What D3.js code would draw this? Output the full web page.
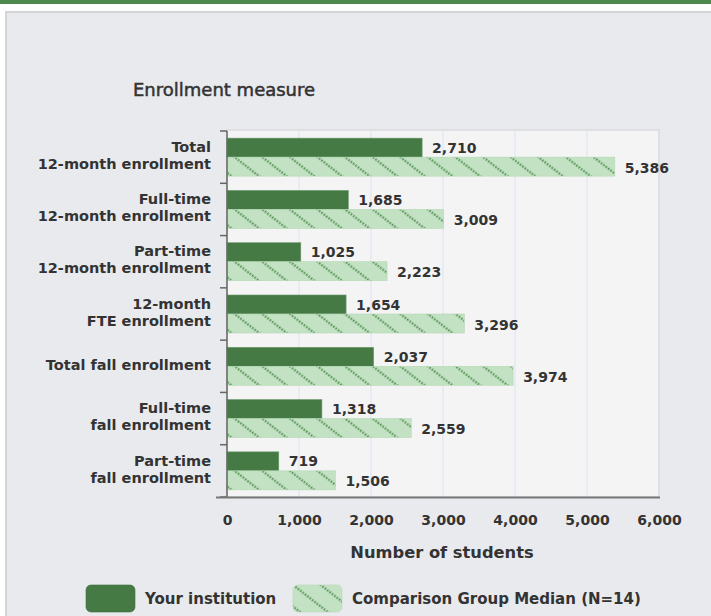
<!doctype html>
<html>
<head>
<style>
  body { margin: 0; background: #fff; }
  svg { display: block; }
</style>
</head>
<body>
<svg width="711" height="616" font-family="'DejaVu Sans', Verdana, sans-serif"></svg>
<script src="https://d3js.org/d3.v7.min.js"></script>
<script>
  // data
  const categories = [
    "Total|12-month enrollment",
    "Full-time|12-month enrollment",
    "Part-time|12-month enrollment",
    "12-month|FTE enrollment",
    "Total fall enrollment",
    "Full-time|fall enrollment",
    "Part-time|fall enrollment"
  ];
  const yourValues = [2710, 1685, 1025, 1654, 2037, 1318, 719];
  const medianValues = [5386, 3009, 2223, 3296, 3974, 2559, 1506];
  const xTicks = [0, 1000, 2000, 3000, 4000, 5000, 6000];
  const seriesNames = ["Your institution", "Comparison Group Median (N=14)"];

  const svg = d3.select("svg"),
    width = +svg.attr("width"),
    height = +svg.attr("height");

  const dark = "#457a45", light = "#c3e2c3", hatch = "#4b8b4b", ink = "#333";
  const fmt = d3.format(",d");

  // hatch pattern for the comparison bars
  const defs = svg.append("defs");
  const pat = defs.append("pattern")
    .attr("id", "hatch")
    .attr("patternUnits", "userSpaceOnUse")
    .attr("width", 12).attr("height", 17)
    .attr("patternTransform", "rotate(38)");
  pat.append("rect").attr("width", 12).attr("height", 17).attr("fill", light);
  pat.append("line")
    .attr("x1", 0).attr("x2", 12).attr("y1", 8.5).attr("y2", 8.5)
    .attr("stroke", hatch).attr("stroke-width", 2.2)
    .attr("stroke-dasharray", "1.7,1.3");

  // page frame
  svg.append("rect").attr("width", width).attr("height", 4).attr("fill", "#4e8a4e");
  svg.append("rect").attr("x", 5).attr("y", 11).attr("width", width).attr("height", height)
    .attr("fill", "#e9eaee");
  svg.append("rect").attr("x", 5).attr("y", 11).attr("width", 2).attr("height", height).attr("fill", "#d3d4d6");
  svg.append("rect").attr("x", 5).attr("y", 11).attr("width", width).attr("height", 2).attr("fill", "#d3d4d6");

  const x = d3.scaleLinear().domain([0, 6000]).range([227, 659]);
  const y = d3.scaleBand().domain(categories).range([131, 497]);

  // plot background
  svg.append("rect")
    .attr("x", x(0)).attr("y", y.range()[0] - 1)
    .attr("width", x(6000) - x(0)).attr("height", y.range()[1] - y.range()[0] + 1)
    .attr("fill", "#f4f4f5").attr("stroke", "#d9dadc").attr("stroke-width", 1.5);

  // gridlines
  svg.append("g").selectAll("line")
    .data(xTicks.slice(1, -1))
    .join("line")
    .attr("x1", d => x(d)).attr("x2", d => x(d))
    .attr("y1", y.range()[0]).attr("y2", y.range()[1])
    .attr("stroke", "#dfe5ef").attr("stroke-width", 1.2);

  const barH = 19;
  const g = svg.append("g").selectAll("g")
    .data(categories)
    .join("g")
    .attr("transform", d => `translate(0,${y(d) + y.bandwidth() / 2})`);

  g.append("rect")
    .attr("x", x(0)).attr("y", -barH)
    .attr("width", (d, i) => x(yourValues[i]) - x(0)).attr("height", barH)
    .attr("fill", dark).attr("stroke", "#6a9a6a").attr("stroke-width", 0.6);
  g.append("rect")
    .attr("x", x(0)).attr("y", 0)
    .attr("width", (d, i) => x(medianValues[i]) - x(0)).attr("height", barH)
    .attr("fill", "url(#hatch)").attr("stroke", "#b5d8b5").attr("stroke-width", 0.6);

  g.append("text")
    .attr("x", (d, i) => x(yourValues[i]) + 10).attr("y", -barH / 2)
    .attr("dy", "0.36em").attr("font-size", 14).attr("font-weight", "bold").attr("fill", ink)
    .text((d, i) => fmt(yourValues[i]));
  g.append("text")
    .attr("x", (d, i) => x(medianValues[i]) + 10).attr("y", barH / 2 + 1)
    .attr("dy", "0.36em").attr("font-size", 14).attr("font-weight", "bold").attr("fill", ink)
    .text((d, i) => fmt(medianValues[i]));

  // category labels
  g.append("text")
    .attr("x", 211).attr("text-anchor", "end")
    .attr("font-size", 14.5).attr("font-weight", "bold").attr("fill", ink)
    .each(function(d) {
      const lines = d.split("|");
      const t = d3.select(this);
      lines.forEach((s, k) => {
        t.append("tspan").attr("x", 211)
          .attr("y", (k - (lines.length - 1) / 2) * 17 - 2)
          .attr("dy", "0.36em").text(s);
      });
    });

  // left axis with ticks at band edges
  const yAxis = svg.append("g").attr("stroke", "#666").attr("stroke-width", 1.5);
  yAxis.append("line").attr("x1", x(0)).attr("x2", x(0))
    .attr("y1", y.range()[0]).attr("y2", y.range()[1]);
  yAxis.selectAll(".tk")
    .data(categories.map(c => y(c)).concat([y.range()[1]]))
    .join("line")
    .attr("x1", x(0) - 7).attr("x2", x(0))
    .attr("y1", d => d).attr("y2", d => d);

  // bottom axis
  svg.append("line").attr("x1", 216).attr("x2", 660)
    .attr("y1", 497.5).attr("y2", 497.5)
    .attr("stroke", "#777").attr("stroke-width", 1.8);

  const xAxis = svg.append("g")
    .attr("transform", "translate(0,497)")
    .call(d3.axisBottom(x).tickValues(xTicks).tickFormat(fmt).tickSize(0).tickPadding(18));
  xAxis.select(".domain").remove();
  xAxis.selectAll("text")
    .attr("font-family", "'DejaVu Sans', Verdana, sans-serif")
    .attr("font-size", 14).attr("font-weight", "bold").attr("fill", ink);

  // titles
  svg.append("text").attr("x", 133).attr("y", 96)
    .attr("font-size", 18).attr("fill", ink)
    .attr("stroke", ink).attr("stroke-width", 0.5)
    .text("Enrollment measure");
  svg.append("text").attr("x", 442).attr("y", 558).attr("text-anchor", "middle")
    .attr("font-size", 16.3).attr("font-weight", "bold").attr("fill", ink)
    .text("Number of students");

  // legend
  const legend = svg.append("g");
  const items = [
    { x: 86, fill: dark, stroke: "#3d6e3d" },
    { x: 293, fill: "url(#hatch)", stroke: "#b5d8b5" }
  ];
  items.forEach((it, i) => {
    legend.append("rect").attr("x", it.x).attr("y", 585).attr("width", 49).attr("height", 27)
      .attr("rx", 5).attr("fill", it.fill).attr("stroke", it.stroke).attr("stroke-width", 0.6);
    legend.append("text").attr("x", it.x + 59).attr("y", 598.5).attr("dy", "0.36em")
      .attr("font-size", 15).attr("font-weight", "bold").attr("fill", ink)
      .text(seriesNames[i]);
  });
</script>
</body>
</html>
